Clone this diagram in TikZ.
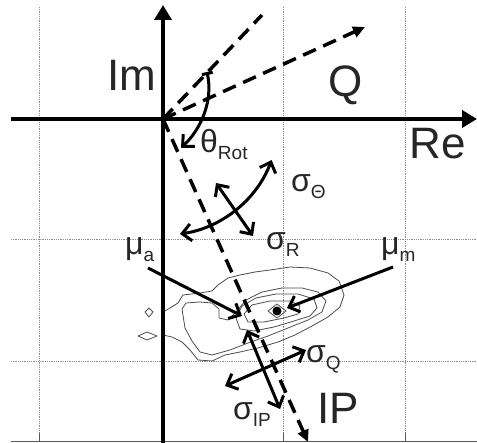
\documentclass[tikz,border=0pt]{standalone}
\usepackage{fontspec}
\setmainfont{Liberation Sans}
\usetikzlibrary{arrows.meta}
\newcommand{\lowsub}[1]{\raisebox{-7pt}{\fontsize{19}{19}\selectfont #1}}

\begin{document}
\begin{tikzpicture}[x=1pt,y=-1pt,
  gridline/.style={densely dotted,black!45,line width=0.8pt},
  frameline/.style={black!65,line width=0.8pt},
  axisline/.style={line width=4pt,-{Triangle[length=15pt,width=17pt]}},
  rotaxis/.style={line width=3.5pt,dash pattern=on 14pt off 8pt},
  marker/.style={line width=3pt,{Straight Barb[length=9pt,width=17pt]}-{Straight Barb[length=9pt,width=17pt]}},
  pointer/.style={line width=3pt,-{Straight Barb[length=9pt,width=17pt]}},
  contour/.style={line width=0.8pt,black!70,line join=round},
  biglabel/.style={font=\fontsize{44}{44}\selectfont,text=black!85,inner sep=0pt},
  symlabel/.style={font=\fontsize{32}{32}\selectfont,text=black!85,inner sep=0pt,anchor=base west}]
\useasboundingbox (0,0) rectangle (477,443);

\draw[gridline] (39,7)--(39,441);
\draw[gridline] (283,7)--(283,441);
\draw[gridline] (405,7)--(405,441);
\draw[gridline] (11,239)--(477,239);
\draw[gridline] (11,361)--(477,361);
\draw[frameline] (11,441)--(477,441);
\draw[frameline] (39,441)--(39,433);
\draw[frameline] (283,441)--(283,433);
\draw[frameline] (405,441)--(405,433);

\draw[contour] (163,312)--(170,308)--(178,303)--(183,295)--(200,293)--(212,291)--(218,285)--(228,278)--(240,275)--(255,272)--(270,270)--(290,267)--(310,268)--(328,273)--(339,281)--(344,295)--(340,307)--(328,317)--(312,326)--(295,335)--(278,342)--(258,348)--(240,352)--(225,355)--(212,361)--(198,360)--(190,350)--(182,342)--(172,337)--(163,335)--cycle;
\draw[contour] (182,309)--(186,303)--(200,302)--(212,303)--(219,309)--(219,318)--(228,320)--(236,312)--(246,300)--(262,292)--(282,288)--(302,288)--(318,292)--(326,301)--(322,312)--(308,320)--(288,328)--(268,336)--(248,343)--(230,350)--(212,355)--(200,352)--(192,341)--(185,328)--cycle;
\draw[contour] (236,318)--(242,306)--(256,298)--(276,294)--(298,294)--(314,299)--(317,308)--(310,316)--(294,321)--(274,327)--(254,331)--(240,329)--cycle;
\draw[contour] (244,314)--(252,305)--(270,301)--(290,301)--(300,306)--(298,314)--(284,318)--(264,322)--(248,322)--cycle;
\draw[contour] (268,311)--(277,304)--(286,311)--(277,318)--cycle;
\draw[contour] (145,312)--(149,308)--(153,312)--(149,317)--cycle;
\draw[contour] (138,336)--(147,332)--(157,336)--(147,340)--cycle;
\fill (277,311) circle[radius=4.5];

\coordinate (O) at (163,119);
\draw[axisline] (163,443)--(163,5);
\draw[axisline] (11,119)--(477,119);

\draw[rotaxis] (O)--(262,15);
\draw[rotaxis,-{Triangle[length=12pt,width=11pt]}] (O)--(365,27);
\draw[rotaxis,-{Triangle[length=12pt,width=11pt]}] (O)--(308,442);

\draw[line width=3pt,{Bar[width=11pt]}-{Straight Barb[length=9pt,width=17pt]}] (207,72) .. controls (213,100) and (202,128) .. (181,148);
\draw[marker] (180,234) arc[start angle=81.6,end angle=20.6,radius=116];
\draw[marker] (216,183)--(253,236);
\draw[pointer] (148,268)--(242,316);
\draw[pointer] (393,267)--(287,308);
\draw[marker] (247,330)--(280,409);
\draw[marker] (225,386)--(306,350);

\node[biglabel] (im) at (132,75) {Im};
\node[biglabel] (q) at (346,85) {Q};
\node[biglabel] (re) at (438,144) {Re};
\node[biglabel] (ip) at (338,408) {IP};
\node[symlabel] (thetarot) at (200,153) {θ\lowsub{Rot}};
\node[symlabel] (sigmatheta) at (291,192) {σ\lowsub{Θ}};
\node[symlabel] (sigmar) at (266,250) {σ\lowsub{R}};
\node[symlabel] (sigmaq) at (306,363) {σ\lowsub{Q}};
\node[symlabel] (sigmaip) at (233,420) {σ\lowsub{IP}};
\node[symlabel] (mua) at (125,255) {μ\lowsub{a}};
\node[symlabel] (mum) at (381,255) {μ\lowsub{m}};
\end{tikzpicture}
\end{document}
